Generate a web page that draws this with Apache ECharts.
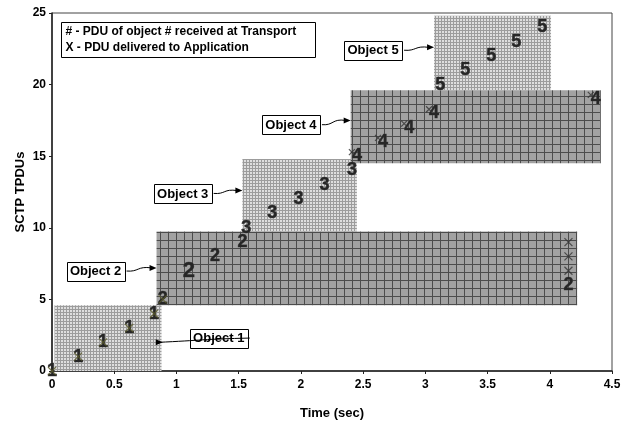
<!DOCTYPE html>
<html><head><meta charset="utf-8">
<script src="https://cdn.jsdelivr.net/npm/echarts@6/dist/echarts.min.js"></script>
<style>html,body{margin:0;padding:0;background:#fff}#c{width:626px;height:426px}</style>
</head><body><div id="c"></div>
<script>
// ---- data ----
const xTicks = [0, 0.5, 1, 1.5, 2, 2.5, 3, 3.5, 4, 4.5];
const yTicks = [0, 5, 10, 15, 20, 25];
const xTitle = 'Time (sec)';
const yTitle = 'SCTP TPDUs';
const objectNames = ['Object 1', 'Object 2', 'Object 3', 'Object 4', 'Object 5'];
// arrival regions of each object (time start/end, TPDU start/end)
const regionX0 = [0.02, 0.84, 1.53, 2.40, 3.07];
const regionX1 = [0.88, 4.22, 2.45, 4.41, 4.01];
const regionY0 = [0.0, 4.6, 9.75, 14.5, 19.6];
const regionY1 = [4.6, 9.75, 14.8, 19.6, 24.8];
// received PDUs per object
const obj1Time = [0, 0.21, 0.41, 0.62, 0.82];
const obj1Tpdu = [0, 1, 2, 3, 4];
const obj2Time = [0.89, 1.10, 1.31, 1.53, 4.15];
const obj2Tpdu = [5, 7, 8, 9, 6];
const obj3Time = [1.56, 1.77, 1.98, 2.19, 2.41];
const obj3Tpdu = [10, 11, 12, 13, 14];
const obj4Time = [2.45, 2.66, 2.87, 3.07, 4.37];
const obj4Tpdu = [15, 16, 17, 18, 19];
const obj5Time = [3.12, 3.32, 3.53, 3.73, 3.94];
const obj5Tpdu = [20, 21, 22, 23, 24];
// PDUs delivered to application
const deliv1Time = [0, 0.21, 0.41, 0.62, 0.82, 0.89];
const deliv1Tpdu = [0, 1, 2, 3, 4, 5];
const deliv2Time = [4.15, 4.15, 4.15];
const deliv2Tpdu = [7, 8, 9];
const deliv4Time = [2.45, 2.66, 2.87, 3.07, 4.37];
const deliv4Tpdu = [15, 16, 17, 18, 19];
// object label boxes: box centre and arrow target (data coords)
const labelBoxTime = [1.34, 0.35, 1.05, 1.92, 2.58];
const labelBoxTpdu = [2.3, 6.98, 12.4, 17.2, 22.4];
const arrowTime = [0.89, 0.84, 1.53, 2.40, 3.07];
const arrowTpdu = [2.0, 7.2, 12.6, 17.5, 22.6];

// ---- patterns ----
function makePattern(size, bg, line) {
  const c = document.createElement('canvas');
  c.width = size; c.height = size;
  const g = c.getContext('2d');
  g.fillStyle = bg; g.fillRect(0, 0, size, size);
  g.fillStyle = line; g.fillRect(0, 0, size, 1); g.fillRect(0, 0, 1, size);
  return { image: c, repeat: 'repeat' };
}
const lightPat = makePattern(3, '#dedede', '#9c9c9c');
const darkPat = makePattern(8, '#a2a2a2', '#4c4c4c');
const regionPats = [lightPat, darkPat, lightPat, darkPat, lightPat];

const FONT = 'Liberation Sans, Arial, sans-serif';
const zip = (a, b) => a.map((v, i) => [v, b[i]]);

const regionData = regionX0.map((v, i) => [v, regionX1[i], regionY0[i], regionY1[i], i]);

function digitSeries(idx, times, tpdus) {
  return {
    type: 'custom', z: 5,
    data: zip(times, tpdus),
    renderItem: function (params, api) {
      const p = api.coord([api.value(0), api.value(1)]);
      const big = (idx === 1 && params.dataIndex === 1);
      return {
        type: 'text', x: p[0], y: p[1],
        style: {
          text: String(idx + 1), align: 'center', verticalAlign: 'middle',
          fontSize: big ? 22 : 18, fontWeight: 'bold',
          fontFamily: 'Liberation Sans Narrow, Liberation Sans, Arial',
          fill: '#262626', stroke: '#4a4a4a', lineWidth: 0.6
        }
      };
    }
  };
}
const xSym = 'path://M0,0L10,10M10,0L0,10';
function xSeries(times, tpdus, color, size, offset) {
  return {
    type: 'scatter', z: 6, symbol: xSym, symbolSize: size, symbolOffset: offset,
    data: zip(times, tpdus),
    itemStyle: { color: 'rgba(0,0,0,0)', borderColor: color, borderWidth: 1.2 },
    silent: true
  };
}

const chart = echarts.init(document.getElementById('c'));
chart.setOption({
  animation: false,
  grid: { left: 52, top: 13, right: 14, bottom: 55, show: true, borderColor: '#444', borderWidth: 1,
          backgroundColor: '#fff', containLabel: false, outerBoundsMode: 'none' },
  xAxis: {
    type: 'value', min: xTicks[0], max: xTicks[xTicks.length - 1], interval: 0.5,
    axisLine: { lineStyle: { color: '#222', width: 1.5 } },
    axisTick: { length: 3, lineStyle: { color: '#222' } },
    axisLabel: { fontFamily: FONT, fontWeight: 'bold', fontSize: 12, color: '#000', margin: 8 },
    splitLine: { show: false }
  },
  yAxis: {
    type: 'value', min: yTicks[0], max: yTicks[yTicks.length - 1], interval: 5,
    axisLine: { show: true, lineStyle: { color: '#222', width: 1.5 } },
    axisTick: { show: true, length: 3, lineStyle: { color: '#222' } },
    axisLabel: { fontFamily: FONT, fontWeight: 'bold', fontSize: 12, color: '#000', margin: 6 },
    splitLine: { show: false }
  },
  series: [
    {
      type: 'custom', z: 2, data: regionData,
      renderItem: function (params, api) {
        const a = api.coord([api.value(0), api.value(3)]);
        const b = api.coord([api.value(1), api.value(2)]);
        return { type: 'rect', shape: { x: a[0], y: a[1], width: b[0] - a[0], height: b[1] - a[1] },
                 style: { fill: regionPats[api.value(4)] } };
      }
    },
    digitSeries(0, obj1Time, obj1Tpdu),
    digitSeries(1, obj2Time, obj2Tpdu),
    digitSeries(2, obj3Time, obj3Tpdu),
    digitSeries(3, obj4Time, obj4Tpdu),
    digitSeries(4, obj5Time, obj5Tpdu),
    xSeries(deliv1Time, deliv1Tpdu, '#5a5a2a', 8, [0, 0]),
    xSeries(deliv2Time, deliv2Tpdu, '#333', 8, [0, 0]),
    xSeries(deliv4Time, deliv4Tpdu, '#333', 6, [-5, -4])
  ]
});

// ---- annotations ----
const graphics = [{
  type: 'group', left: 61, top: 22, z: 20,
  children: [
    { type: 'rect', shape: { x: 0, y: 0, width: 254, height: 35 }, style: { fill: '#fff', stroke: '#000', lineWidth: 1 } },
    { type: 'text', x: 4, y: 9, style: { text: '# - PDU of object # received at Transport', font: 'bold 12px ' + FONT, fill: '#000', verticalAlign: 'middle' } },
    { type: 'text', x: 4, y: 25, style: { text: 'X - PDU delivered to Application', font: 'bold 12px ' + FONT, fill: '#000', verticalAlign: 'middle' } }
  ]
}, {
  type: 'text', x: 332, y: 413, z: 20,
  style: { text: xTitle, font: 'bold 13px ' + FONT, fill: '#000', align: 'center', verticalAlign: 'middle' }
}, {
  type: 'text', x: 20, y: 192, rotation: Math.PI / 2, z: 20,
  style: { text: yTitle, font: 'bold 13px ' + FONT, fill: '#000', align: 'center', verticalAlign: 'middle' }
}];
objectNames.forEach(function (name, i) {
  const c = chart.convertToPixel({ gridIndex: 0 }, [labelBoxTime[i], labelBoxTpdu[i]]);
  const t = chart.convertToPixel({ gridIndex: 0 }, [arrowTime[i], arrowTpdu[i]]);
  const w = 58, h = 19;
  const sx = c[0] + w / 2 + 2, sy = c[1];
  const ex = t[0] - 5, ey = t[1];
  const mx = (sx + ex) / 2;
  graphics.push({
    type: 'rect', z: 20, shape: { x: Math.round(c[0] - w / 2) + 0.5, y: Math.round(c[1] - h / 2) + 0.5, width: w, height: h },
    style: { fill: '#fff', stroke: '#000', lineWidth: 1 }
  });
  graphics.push({
    type: 'text', z: 21, x: c[0], y: c[1] + 0.5,
    style: { text: name, font: 'bold 13px ' + FONT, fill: '#000', align: 'center', verticalAlign: 'middle' }
  });
  graphics.push({
    type: 'bezierCurve', z: 20,
    shape: { x1: sx, y1: sy, cpx1: mx, cpy1: sy + 1, cpx2: mx - 2, cpy2: ey - 2, x2: ex, y2: ey },
    style: { stroke: '#000', lineWidth: 1, fill: null }
  });
  graphics.push({
    type: 'polygon', z: 20,
    shape: { points: [[t[0], t[1]], [t[0] - 7, t[1] - 3], [t[0] - 7, t[1] + 3]] },
    style: { fill: '#000' }
  });
});
chart.setOption({ graphic: graphics });
</script></body></html>
